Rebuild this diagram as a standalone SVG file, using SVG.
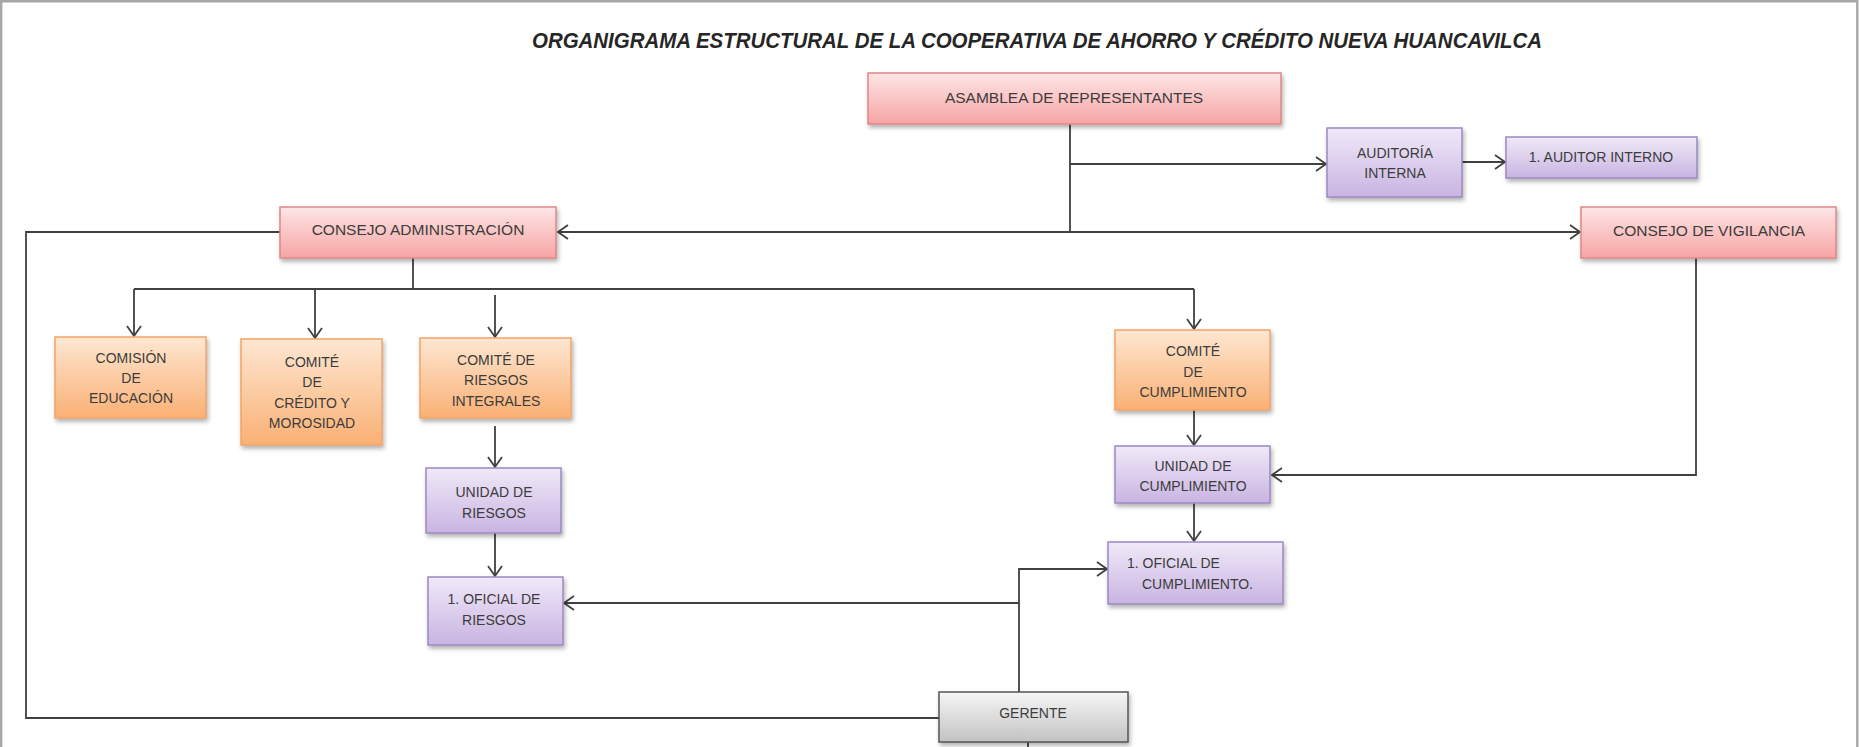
<svg xmlns="http://www.w3.org/2000/svg" width="1859" height="747" viewBox="0 0 1859 747">
<defs>
<linearGradient id="gPink" x1="0" y1="0" x2="0" y2="1"><stop offset="0" stop-color="#fde6e6"/><stop offset="1" stop-color="#f7a4a4"/></linearGradient>
<linearGradient id="gOrange" x1="0" y1="0" x2="0" y2="1"><stop offset="0" stop-color="#fde7d2"/><stop offset="1" stop-color="#fab074"/></linearGradient>
<linearGradient id="gPurple" x1="0" y1="0" x2="0" y2="1"><stop offset="0" stop-color="#f0e9f8"/><stop offset="1" stop-color="#c9b4e2"/></linearGradient>
<linearGradient id="gGray" x1="0" y1="0" x2="0" y2="1"><stop offset="0" stop-color="#f6f6f6"/><stop offset="1" stop-color="#c2c2c2"/></linearGradient>
<filter id="sh" x="-10%" y="-10%" width="130%" height="140%"><feDropShadow dx="1.5" dy="3" stdDeviation="2" flood-color="#000" flood-opacity="0.3"/></filter>
<marker id="arr" markerUnits="userSpaceOnUse" markerWidth="14" markerHeight="16" refX="11" refY="8" orient="auto"><path d="M1,1 L11,8 L1,15" fill="none" stroke="#404040" stroke-width="1.8"/></marker>
</defs>
<style>
.pink{fill:url(#gPink);stroke:#e08686;stroke-width:1.5;filter:url(#sh)}
.orange{fill:url(#gOrange);stroke:#f2a466;stroke-width:1.5;filter:url(#sh)}
.purple{fill:url(#gPurple);stroke:#9c88c2;stroke-width:1.5;filter:url(#sh)}
.gray{fill:url(#gGray);stroke:#555;stroke-width:1.5;filter:url(#sh)}
text{font-family:"Liberation Sans",Arial,sans-serif;fill:#3c3c3c}
.t{font-size:15.5px;text-anchor:middle}
.s{font-size:14px;text-anchor:middle}
.ln{fill:none;stroke:#404040;stroke-width:1.8}
.la{fill:none;stroke:#404040;stroke-width:1.8;marker-end:url(#arr)}
</style>
<rect width="1859" height="747" fill="#fff"/>
<path d="M1.2,747 V1.2 H1857.3 V747" fill="none" stroke="#a8a8a8" stroke-width="2.4"/>
<text x="532" y="48" font-size="22" font-weight="bold" font-style="italic" textLength="1010" lengthAdjust="spacingAndGlyphs" style="fill:#262626">ORGANIGRAMA ESTRUCTURAL DE LA COOPERATIVA DE AHORRO Y CRÉDITO NUEVA HUANCAVILCA</text>

<g id="connectors">
<path class="ln" d="M1070,124 V232"/>
<path class="la" d="M1070,232 H558"/>
<path class="la" d="M1070,232 H1580"/>
<path class="la" d="M1070,164 H1326"/>
<path class="la" d="M1462,162 H1505"/>
<path class="la" d="M1696,258 V475 H1272"/>
<path class="ln" d="M413,258 V289"/>
<path class="ln" d="M134,289 H1194"/>
<path class="la" d="M134,289 V336"/>
<path class="la" d="M315,289 V338"/>
<path class="la" d="M495,295 V337"/>
<path class="la" d="M1194,289 V329"/>
<path class="la" d="M495,426 V467"/>
<path class="la" d="M495,533 V576"/>
<path class="la" d="M1194,410 V445"/>
<path class="la" d="M1194,503 V541"/>
<path class="la" d="M1019,692 V569 H1107"/>
<path class="la" d="M1019,603 H564"/>
<path class="ln" d="M939,718 H26 V232 H280"/>
<path class="ln" d="M1028,742 V747"/>
</g>

<g id="asamblea"><rect class="pink" x="868" y="73" width="413" height="51"/><text class="t" x="1074" y="103">ASAMBLEA DE REPRESENTANTES</text></g>
<g id="auditoria"><rect class="purple" x="1327" y="128" width="135" height="69"/><text class="s" x="1395" y="158">AUDITORÍA</text><text class="s" x="1395" y="178">INTERNA</text></g>
<g id="auditor"><rect class="purple" x="1506" y="137" width="191" height="41"/><text class="s" x="1601" y="162">1. AUDITOR INTERNO</text></g>
<g id="consejo-admin"><rect class="pink" x="280" y="207" width="276" height="51"/><text class="t" x="418" y="235">CONSEJO ADMINISTRACIÓN</text></g>
<g id="consejo-vigilancia"><rect class="pink" x="1581" y="207" width="255" height="51"/><text class="t" x="1709" y="236">CONSEJO DE VIGILANCIA</text></g>
<g id="comision-educacion"><rect class="orange" x="55" y="337" width="151" height="81"/><text class="s" x="131" y="363">COMISIÓN</text><text class="s" x="131" y="383">DE</text><text class="s" x="131" y="403">EDUCACIÓN</text></g>
<g id="comite-credito"><rect class="orange" x="241" y="339" width="141" height="106"/><text class="s" x="312" y="367">COMITÉ</text><text class="s" x="312" y="387">DE</text><text class="s" x="312" y="408">CRÉDITO Y</text><text class="s" x="312" y="428">MOROSIDAD</text></g>
<g id="comite-riesgos"><rect class="orange" x="420" y="338" width="151" height="80"/><text class="s" x="496" y="365">COMITÉ DE</text><text class="s" x="496" y="385">RIESGOS</text><text class="s" x="496" y="406">INTEGRALES</text></g>
<g id="unidad-riesgos"><rect class="purple" x="426" y="468" width="135" height="65"/><text class="s" x="494" y="497">UNIDAD DE</text><text class="s" x="494" y="518">RIESGOS</text></g>
<g id="oficial-riesgos"><rect class="purple" x="428" y="577" width="135" height="68"/><text class="s" x="494" y="604">1. OFICIAL DE</text><text class="s" x="494" y="625">RIESGOS</text></g>
<g id="comite-cumplimiento"><rect class="orange" x="1115" y="330" width="155" height="80"/><text class="s" x="1193" y="356">COMITÉ</text><text class="s" x="1193" y="377">DE</text><text class="s" x="1193" y="397">CUMPLIMIENTO</text></g>
<g id="unidad-cumplimiento"><rect class="purple" x="1115" y="446" width="155" height="57"/><text class="s" x="1193" y="471">UNIDAD DE</text><text class="s" x="1193" y="491">CUMPLIMIENTO</text></g>
<g id="oficial-cumplimiento"><rect class="purple" x="1108" y="542" width="175" height="62"/><text x="1127" y="568" font-size="14">1. OFICIAL DE</text><text x="1142" y="589" font-size="14">CUMPLIMIENTO.</text></g>
<g id="gerente"><rect class="gray" x="939" y="692" width="189" height="50"/><text class="s" x="1033" y="718">GERENTE</text></g>
</svg>
